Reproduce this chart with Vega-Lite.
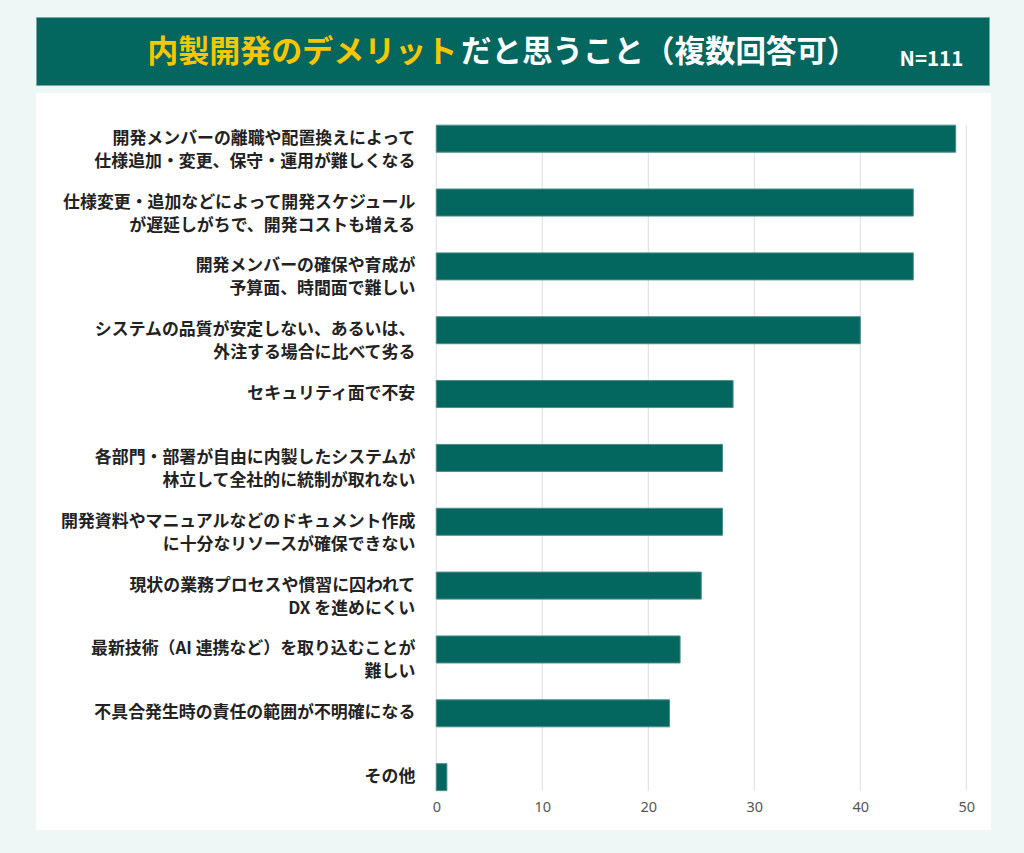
{
  "$schema": "https://vega.github.io/schema/vega-lite/v6.json",
  "background": "#eef7f6",
  "padding": {"left": 35, "top": 16, "right": 34, "bottom": 25},
  "config": {"view": {"stroke": null}, "concat": {"spacing": 7}, "font": "Noto Sans CJK JP"},
  "vconcat": [
    {
      "width": 953,
      "height": 68,
      "view": {"fill": "#03665f", "stroke": "#7aa8a3", "strokeWidth": 1},
      "layer": [
        {
          "data": {"values": [{"t": "内製開発のデメリット"}]},
          "mark": {"type": "text", "align": "right", "baseline": "middle", "fontSize": 31, "fontWeight": "bold", "color": "#f7c600", "font": "Noto Sans CJK JP"},
          "encoding": {
            "x": {"datum": 44.2, "type": "quantitative", "scale": {"domain": [0, 100]}, "axis": null},
            "y": {"datum": 47, "type": "quantitative", "scale": {"domain": [0, 100]}, "axis": null},
            "text": {"field": "t"}
          }
        },
        {
          "data": {"values": [{"t": "だと思うこと（複数回答可）"}]},
          "mark": {"type": "text", "align": "left", "baseline": "middle", "fontSize": 30.5, "fontWeight": "bold", "color": "#ffffff", "font": "Noto Sans CJK JP"},
          "encoding": {
            "x": {"datum": 44.6, "type": "quantitative"},
            "y": {"datum": 47, "type": "quantitative"},
            "text": {"field": "t"}
          }
        },
        {
          "data": {"values": [{"t": "N=111"}]},
          "mark": {"type": "text", "align": "right", "baseline": "middle", "fontSize": 20.5, "fontWeight": "bold", "color": "#ffffff", "font": "Noto Sans CJK JP"},
          "encoding": {
            "x": {"datum": 97.3, "type": "quantitative"},
            "y": {"datum": 37, "type": "quantitative"},
            "text": {"field": "t"}
          }
        }
      ]
    },
    {
      "width": 955,
      "height": 737,
      "view": {"fill": "#ffffff"},
      "data": {
        "values": [
          {"cat": "開発メンバーの離職や配置換えによって\n仕様追加・変更、保守・運用が難しくなる", "n": 49},
          {"cat": "仕様変更・追加などによって開発スケジュール\nが遅延しがちで、開発コストも増える", "n": 45},
          {"cat": "開発メンバーの確保や育成が\n予算面、時間面で難しい", "n": 45},
          {"cat": "システムの品質が安定しない、あるいは、\n外注する場合に比べて劣る", "n": 40},
          {"cat": "セキュリティ面で不安", "n": 28},
          {"cat": "各部門・部署が自由に内製したシステムが\n林立して全社的に統制が取れない", "n": 27},
          {"cat": "開発資料やマニュアルなどのドキュメント作成\nに十分なリソースが確保できない", "n": 27},
          {"cat": "現状の業務プロセスや慣習に囚われて\nDX を進めにくい", "n": 25},
          {"cat": "最新技術（AI 連携など）を取り込むことが\n難しい", "n": 23},
          {"cat": "不具合発生時の責任の範囲が不明確になる", "n": 22},
          {"cat": "その他", "n": 1}
        ]
      },
      "layer": [
        {
          "data": {
            "values": [
              {"g": 0, "top": "開発メンバーの離職や配置換えによって\n仕様追加・変更、保守・運用が難しくなる", "bot": "その他"},
              {"g": 10, "top": "開発メンバーの離職や配置換えによって\n仕様追加・変更、保守・運用が難しくなる", "bot": "その他"},
              {"g": 20, "top": "開発メンバーの離職や配置換えによって\n仕様追加・変更、保守・運用が難しくなる", "bot": "その他"},
              {"g": 30, "top": "開発メンバーの離職や配置換えによって\n仕様追加・変更、保守・運用が難しくなる", "bot": "その他"},
              {"g": 40, "top": "開発メンバーの離職や配置換えによって\n仕様追加・変更、保守・運用が難しくなる", "bot": "その他"},
              {"g": 50, "top": "開発メンバーの離職や配置換えによって\n仕様追加・変更、保守・運用が難しくなる", "bot": "その他"}
            ]
          },
          "mark": {"type": "rule", "color": "#dddddd", "strokeWidth": 1},
          "encoding": {
            "x": {
              "field": "g", "type": "quantitative",
              "scale": {"domain": [-37.76, 52.33], "nice": false, "zero": false},
              "axis": {"values": [0, 10, 20, 30, 40, 50], "grid": false, "domain": false, "ticks": false, "offset": -33, "labelPadding": 3, "labelFontSize": 14.5, "labelColor": "#555555", "labelFont": "Noto Sans", "title": null}
            },
            "y": {
              "field": "top", "type": "nominal", "bandPosition": 0,
              "scale": {
                "domain": [
                  "開発メンバーの離職や配置換えによって\n仕様追加・変更、保守・運用が難しくなる",
                  "仕様変更・追加などによって開発スケジュール\nが遅延しがちで、開発コストも増える",
                  "開発メンバーの確保や育成が\n予算面、時間面で難しい",
                  "システムの品質が安定しない、あるいは、\n外注する場合に比べて劣る",
                  "セキュリティ面で不安",
                  "各部門・部署が自由に内製したシステムが\n林立して全社的に統制が取れない",
                  "開発資料やマニュアルなどのドキュメント作成\nに十分なリソースが確保できない",
                  "現状の業務プロセスや慣習に囚われて\nDX を進めにくい",
                  "最新技術（AI 連携など）を取り込むことが\n難しい",
                  "不具合発生時の責任の範囲が不明確になる",
                  "その他"
                ],
                "paddingInner": 0.577, "paddingOuter": 0.56, "align": 0.45
              },
              "axis": null
            },
            "y2": {"field": "bot", "bandPosition": 1}
          }
        },
        {
          "mark": {"type": "bar", "color": "#03665f", "stroke": "#4a8e88", "strokeWidth": 1},
          "encoding": {
            "x": {"field": "n", "type": "quantitative"},
            "y": {"field": "cat", "type": "nominal", "axis": null}
          }
        },
        {
          "mark": {"type": "text", "align": "right", "baseline": "middle", "dx": -21, "fontSize": 16.9, "fontWeight": "bold", "lineBreak": "\n", "lineHeight": 23, "color": "#222222", "font": "Noto Sans CJK JP"},
          "encoding": {
            "x": {"datum": 0},
            "y": {"field": "cat", "type": "nominal"},
            "text": {"field": "cat"}
          }
        }
      ]
    }
  ]
}
